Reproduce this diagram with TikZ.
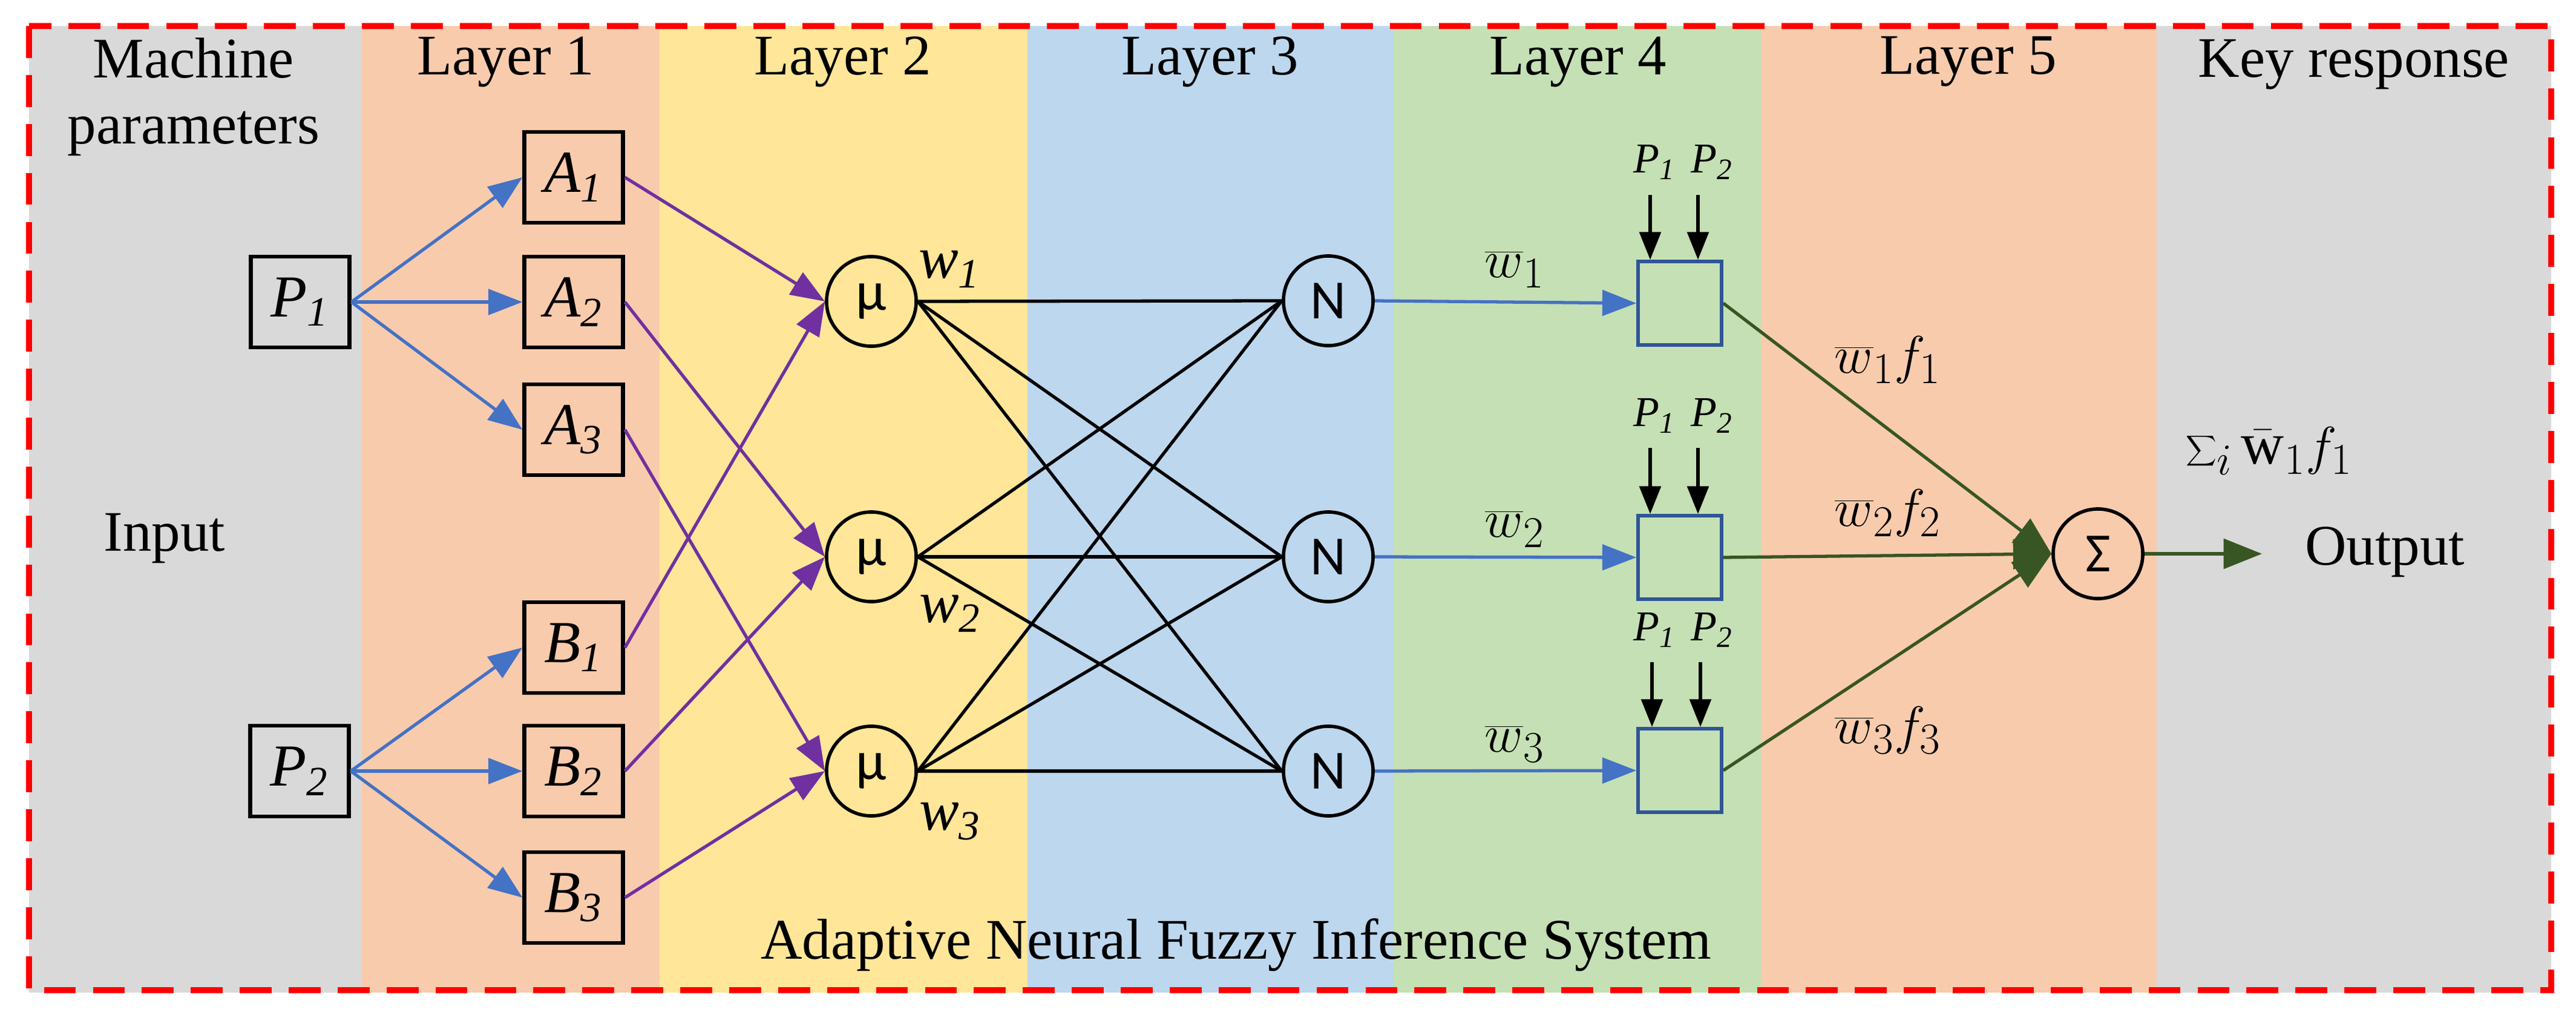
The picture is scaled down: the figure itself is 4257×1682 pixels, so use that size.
\documentclass[tikz,border=0pt]{standalone}
\usepackage{fontspec}
\setmainfont{Liberation Serif}
\newfontfamily\sansf{Carlito}
\usetikzlibrary{arrows.meta}
\definecolor{cgray}{HTML}{D9D9D9}
\definecolor{corange}{HTML}{F8CBAD}
\definecolor{cyellow}{HTML}{FFE699}
\definecolor{cblue}{HTML}{BDD7EE}
\definecolor{cgreen}{HTML}{C5E0B4}
\definecolor{ablue}{HTML}{4472C4}
\definecolor{apurple}{HTML}{7030A0}
\definecolor{agreen}{HTML}{375623}
\definecolor{bxblue}{HTML}{2F5597}
\definecolor{fred}{HTML}{FF0000}
\begin{document}
\begin{tikzpicture}[x=0.01cm,y=-0.01cm,
  hdr/.style={font=\fontsize{27}{31}\selectfont},
  box/.style={draw,line width=1.8pt,minimum width=1.63cm,minimum height=1.5cm,inner sep=0pt,font=\fontsize{28}{32}\selectfont\itshape},
  circ/.style={draw,circle,line width=1.6pt,minimum size=1.48cm,inner sep=0pt,font=\sansf\fontsize{26}{30}\selectfont},
  sq/.style={draw=bxblue,line width=1.6pt,minimum size=1.38cm,inner sep=0pt},
  barr/.style={draw=ablue,line width=1.5pt,-{Triangle[length=16pt,width=12pt]}},
  parr/.style={draw=apurple,line width=1.5pt,-{Triangle[length=16pt,width=12pt]}},
  blk/.style={line width=1.5pt},
  garr/.style={draw=agreen,line width=1.5pt,-{Triangle[length=18pt,width=14pt]}},
  karr/.style={line width=1.5pt,-{Triangle[length=13pt,width=10pt]}},
  lbl/.style={font=\fontsize{28}{32}\selectfont},
  sm/.style={font=\fontsize{20}{24}\selectfont\itshape}]
\useasboundingbox (0,0) rectangle (4257,1682);
\fill[white] (0,0) rectangle (4257,1682);
% bands
\fill[cgray] (48,43) rectangle (598,1640);
\fill[corange] (598,43) rectangle (1090,1640);
\fill[cyellow] (1090,43) rectangle (1698,1640);
\fill[cblue] (1698,43) rectangle (2302,1640);
\fill[cgreen] (2302,43) rectangle (2910,1640);
\fill[corange] (2910,43) rectangle (3564,1640);
\fill[cgray] (3564,43) rectangle (4216,1640);
\draw[fred,line width=2.8pt,dash pattern=on 15pt off 8pt] (48,43) rectangle (4216,1636);
% headers
\node[hdr,align=center] (hm) at (320,160) {Machine\\parameters};
\node[hdr] (h1) at (836,102) {Layer 1};
\node[hdr] (h2) at (1393,102) {Layer 2};
\node[hdr] (h3) at (2000,102) {Layer 3};
\node[hdr] (h4) at (2608,102) {Layer 4};
\node[hdr] (h5) at (3253,102) {Layer 5};
\node[hdr] (hk) at (3890,107) {Key response};
\node[hdr] (inp) at (272,890) {Input};
\node[hdr] (outp) at (3941,912) {Output};
\node[hdr] (anf) at (2043,1561) {Adaptive Neural Fuzzy Inference System};
% layer 0/1
\node[box] (P1) at (496,499) {P\textsubscript{1}};
\node[box] (P2) at (495,1274) {P\textsubscript{2}};
\node[box] (A1) at (948,293) {A\textsubscript{1}};
\node[box] (A2) at (948,499) {A\textsubscript{2}};
\node[box] (A3) at (948,710) {A\textsubscript{3}};
\node[box] (B1) at (948,1070) {B\textsubscript{1}};
\node[box] (B2) at (948,1274) {B\textsubscript{2}};
\node[box] (B3) at (948,1483) {B\textsubscript{3}};
% layer 2,3
\node[circ] (M1) at (1440,498) {μ};
\node[circ] (M2) at (1440,920) {μ};
\node[circ] (M3) at (1440,1274) {μ};
\node[circ] (N1) at (2195,497) {N};
\node[circ] (N2) at (2195,920) {N};
\node[circ] (N3) at (2195,1274) {N};
% layer 4
\node[sq] (S1) at (2776,501) {};
\node[sq] (S2) at (2776,921) {};
\node[sq] (S3) at (2776,1273) {};
\node[circ] (SG) at (3467,915) {Σ};
\coordinate (out) at (3738,915);
% arrows
\foreach \a in {A1,A2,A3} \draw[barr] (P1.east) -- (\a.west);
\foreach \a in {B1,B2,B3} \draw[barr] (P2.east) -- (\a.west);
\draw[parr] (A1.east) -- (M1.west);
\draw[parr] (B1.east) -- (M1.west);
\draw[parr] (A2.east) -- (M2.west);
\draw[parr] (B2.east) -- (M2.west);
\draw[parr] (A3.east) -- (M3.west);
\draw[parr] (B3.east) -- (M3.west);
\foreach \m in {M1,M2,M3} \foreach \n in {N1,N2,N3} \draw[blk] (\m.east) -- (\n.west);
\draw[barr] (N1.east) -- (S1.west);
\draw[barr] (N2.east) -- (S2.west);
\draw[barr] (N3.east) -- (S3.west);
\draw[garr] (S1.east) -- (SG.west);
\draw[garr] (S2.east) -- (SG.west);
\draw[garr] (S3.east) -- (SG.west);
\draw[garr] (SG.east) -- (out);
% labels
\node[lbl] (w1) at (1569,445) {\textit{w}\textsubscript{\textit{1}}};
\node[lbl] (w2) at (1570,1014) {\textit{w}\textsubscript{\textit{2}}};
\node[lbl] (w3) at (1570,1357) {\textit{w}\textsubscript{\textit{3}}};
\node[lbl] (wb1) at (2503,445) {$\overline{w}_1$};
\node[lbl] (wb2) at (2503,874) {$\overline{w}_2$};
\node[lbl] (wb3) at (2503,1229) {$\overline{w}_3$};
\node[lbl] (wf1) at (3120,595) {$\overline{w}_1 f_1$};
\node[lbl] (wf2) at (3120,848) {$\overline{w}_2 f_2$};
\node[lbl] (wf3) at (3120,1207) {$\overline{w}_3 f_3$};
\node[lbl] (sum) at (3750,745) {$\displaystyle\sum\nolimits_i \bar{\mathrm{w}}_1 f_1$};
\foreach \y/\i in {268/a,687/b,1041/c} {
  \node[sm] (p1\i) at (2734,\y) {P\textsubscript{1}};
  \node[sm] (p2\i) at (2829,\y) {P\textsubscript{2}};
}
\coordinate (t1a) at (2727,322); \coordinate (t2a) at (2806,322);
\coordinate (t1b) at (2727,740); \coordinate (t2b) at (2806,740);
\coordinate (t1c) at (2730,1094); \coordinate (t2c) at (2810,1094);
\draw[karr] (t1a) -- (t1a |- S1.north);
\draw[karr] (t2a) -- (t2a |- S1.north);
\draw[karr] (t1b) -- (t1b |- S2.north);
\draw[karr] (t2b) -- (t2b |- S2.north);
\draw[karr] (t1c) -- (t1c |- S3.north);
\draw[karr] (t2c) -- (t2c |- S3.north);
\end{tikzpicture}
\end{document}
